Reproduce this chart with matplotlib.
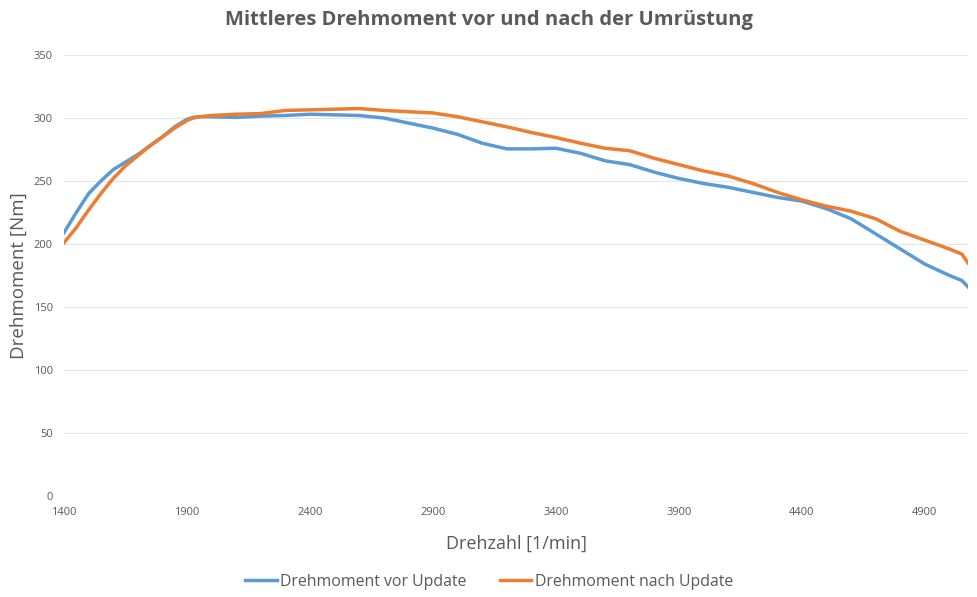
import numpy as np
import matplotlib
matplotlib.use('Agg')
import matplotlib.pyplot as plt

plt.rcParams['font.family'] = ['Open Sans', 'DejaVu Sans']

# Drehzahl [1/min]
rpm = [1400, 1450, 1500, 1550, 1600, 1650, 1700, 1750, 1800, 1850, 1900, 1925,
       1950, 2000, 2100, 2200, 2300, 2400, 2500, 2600, 2700, 2800, 2900, 3000,
       3100, 3200, 3300, 3400, 3500, 3600, 3700, 3800, 3900, 4000, 4100, 4200,
       4300, 4400, 4500, 4600, 4700, 4800, 4900, 5000, 5050, 5075]

# Drehmoment vor Update [Nm]
vor = [209, 225, 240, 250, 259, 265, 271, 278, 285, 293, 299, 300.5,
       301, 301, 300.5, 301.5, 302, 303, 302.5, 302, 300, 296, 292, 287,
       280, 275.5, 275.5, 276, 272, 266, 263, 257, 252, 248, 245, 241,
       237, 234, 228, 220, 208, 196, 184, 175, 171, 166]

# Drehmoment nach Update [Nm]
nach = [201, 213, 227, 240, 252, 262, 270, 278, 285, 292, 298, 300,
        301, 302, 303, 303.5, 306, 306.5, 307, 307.5, 306, 305, 304, 301,
        297, 293, 288.5, 284.5, 280, 276, 274, 268, 263, 258, 254, 248,
        241, 235, 230, 226, 220, 210, 203, 196, 192, 185]

xticks = [1400, 1900, 2400, 2900, 3400, 3900, 4400, 4900]
yticks = [0, 50, 100, 150, 200, 250, 300, 350]

fig = plt.figure(figsize=(9.78, 5.97), dpi=100)
ax = fig.add_axes([64/978, 1-496/597, (968-64)/978, (496-55)/597])

ax.plot(rpm, vor, color='#5B9BD5', lw=2.5, label='Drehmoment vor Update')
ax.plot(rpm, nach, color='#ED7D31', lw=2.5, label='Drehmoment nach Update')

ax.set_xlim(1400, 5075)
ax.set_ylim(0, 350)
ax.set_xticks(xticks)
ax.set_yticks(yticks)
ax.grid(axis='y', color='#e6e6e6', lw=0.8)
ax.set_axisbelow(True)
for s in ax.spines.values():
    s.set_visible(False)
ax.tick_params(length=0, labelsize=8, colors='#595959', pad=8)

ax.set_xlabel('Drehzahl [1/min]', fontsize=13, color='#595959', labelpad=12)
ax.set_ylabel('Drehmoment [Nm]', fontsize=13.5, color='#595959', labelpad=4)
fig.suptitle('Mittleres Drehmoment vor und nach der Umrüstung', fontsize=14.5,
             fontweight='bold', color='#595959', y=0.983)

fig.legend(loc='lower center', ncol=2, frameon=False, fontsize=11.4,
           bbox_to_anchor=(0.5, -0.012), handlelength=2.0, handletextpad=0.2,
           labelcolor='#595959', columnspacing=2.1)

plt.savefig('out.png')
